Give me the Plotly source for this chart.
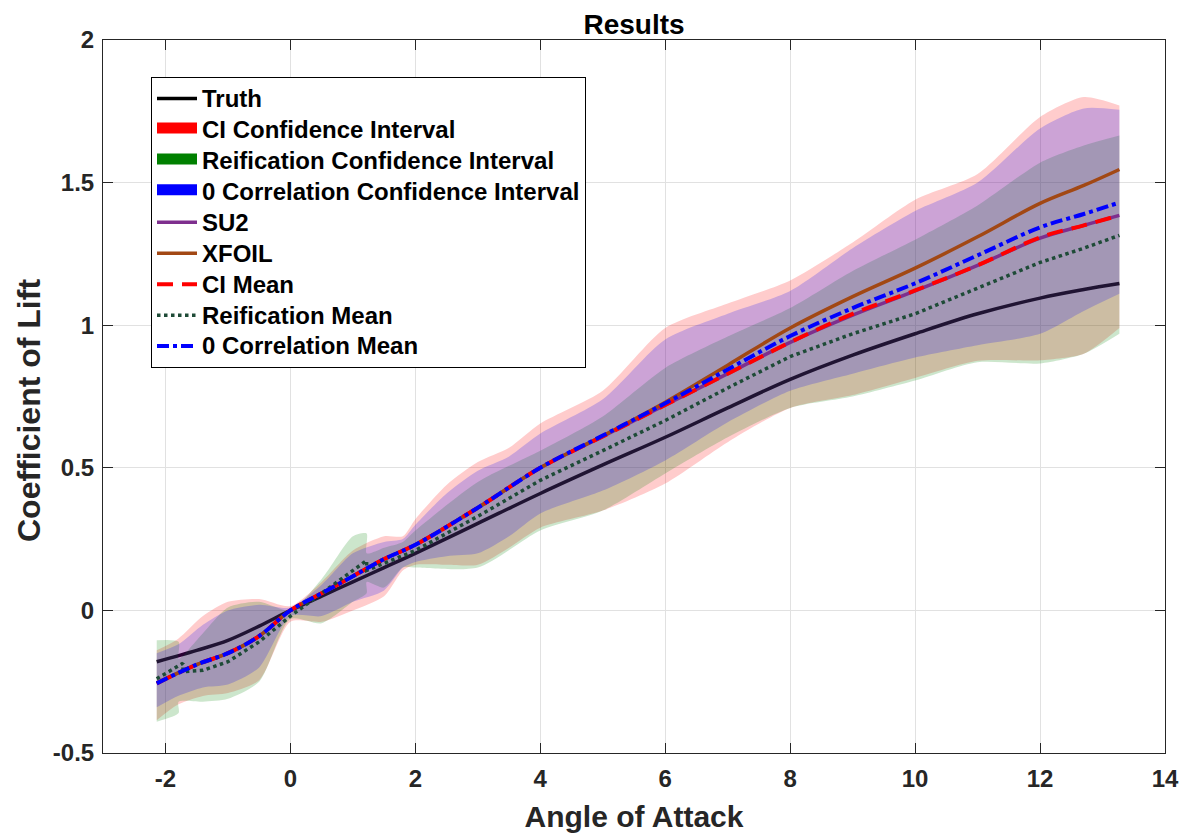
import plotly.graph_objects as go

# ---------------- data ----------------
x_line = [-2.14, -1.5, -1.0, -0.5, 0.0, 0.5, 1.0, 1.5, 2.0, 3.0, 4.0, 5.0, 6.0,
          7.0, 8.0, 9.0, 10.0, 11.0, 12.0, 12.7, 13.27]
truth = [-0.18, -0.14, -0.105, -0.055, 0.0, 0.05, 0.10, 0.15, 0.20, 0.305, 0.41,
         0.51, 0.607, 0.71, 0.81, 0.895, 0.97, 1.04, 1.095, 1.125, 1.146]
su2 = [-0.255, -0.19, -0.15, -0.09, 0.0, 0.06, 0.12, 0.18, 0.23, 0.36, 0.50,
       0.61, 0.72, 0.83, 0.94, 1.035, 1.12, 1.21, 1.305, 1.35, 1.385]
xfoil = [-0.255, -0.19, -0.15, -0.09, 0.0, 0.06, 0.12, 0.18, 0.23, 0.36, 0.50,
         0.612, 0.73, 0.86, 0.99, 1.10, 1.20, 1.31, 1.427, 1.49, 1.546]
ci_mean = [-0.256, -0.19, -0.15, -0.09, 0.0, 0.06, 0.12, 0.18, 0.23, 0.36, 0.50,
           0.61, 0.72, 0.83, 0.94, 1.04, 1.122, 1.21, 1.308, 1.35, 1.385]
zero_mean = [-0.256, -0.19, -0.15, -0.09, 0.0, 0.06, 0.12, 0.18, 0.23, 0.36, 0.50,
             0.613, 0.726, 0.845, 0.962, 1.06, 1.147, 1.245, 1.343, 1.39, 1.43]

x_reif_mean = [-2.14, -1.9, -1.72, -1.72, -1.4, -1.0, -0.5, 0.0, 0.5, 1.0, 1.22,
               1.22, 1.5, 2.0, 3.0, 4.0, 5.0, 6.0, 7.0, 8.0, 9.0, 10.0, 11.0,
               12.0, 12.7, 13.27]
reif_mean = [-0.24, -0.21, -0.185, -0.215, -0.21, -0.18, -0.11, -0.02, 0.06, 0.14,
             0.175, 0.14, 0.165, 0.21, 0.33, 0.456, 0.56, 0.666, 0.78, 0.89, 0.97,
             1.04, 1.13, 1.22, 1.27, 1.315]

x_band = [-2.14, -1.8, -1.4, -1.0, -0.5, 0.0, 0.5, 1.0, 1.5, 1.8, 2.0, 2.5, 3.0,
          3.5, 4.0, 5.0, 6.0, 7.0, 8.0, 9.0, 10.0, 11.0, 12.0, 12.7, 13.27]
ci_upper = [-0.14, -0.10, -0.02, 0.03, 0.04, 0.015, 0.10, 0.21, 0.26, 0.26, 0.32,
            0.44, 0.52, 0.57, 0.655, 0.77, 0.99, 1.076, 1.157, 1.29, 1.44, 1.53,
            1.73, 1.80, 1.77]
ci_lower = [-0.385, -0.33, -0.30, -0.29, -0.245, -0.04, -0.04, 0.0, 0.05, 0.14,
            0.16, 0.16, 0.16, 0.22, 0.29, 0.35, 0.445, 0.59, 0.71, 0.755, 0.815,
            0.875, 0.877, 0.90, 0.99]
zero_upper = [-0.15, -0.12, -0.05, 0.0, 0.02, 0.01, 0.09, 0.20, 0.24, 0.25, 0.30,
              0.41, 0.49, 0.54, 0.62, 0.74, 0.95, 1.04, 1.12, 1.27, 1.40, 1.50,
              1.69, 1.76, 1.755]
zero_lower = [-0.34, -0.30, -0.27, -0.26, -0.20, -0.02, -0.02, 0.03, 0.07, 0.15,
              0.17, 0.19, 0.20, 0.26, 0.34, 0.42, 0.526, 0.66, 0.77, 0.83, 0.887,
              0.93, 0.97, 1.05, 1.11]

x_reif_band = [-2.14, -1.79, -1.79, -1.4, -1.0, -0.5, 0.0, 0.5, 1.0, 1.22, 1.22,
               1.5, 1.8, 2.0, 3.0, 4.0, 5.0, 6.0, 7.0, 8.0, 9.0, 10.0, 11.0,
               12.0, 12.7, 13.27]
reif_upper = [-0.105, -0.11, -0.17, -0.08, 0.01, 0.03, 0.0, 0.11, 0.26, 0.27, 0.20,
              0.22, 0.24, 0.28, 0.45, 0.56, 0.68, 0.85, 0.96, 1.06, 1.19, 1.30,
              1.42, 1.57, 1.63, 1.665]
reif_lower = [-0.39, -0.36, -0.32, -0.32, -0.31, -0.25, -0.03, -0.045, 0.03, 0.06,
              0.10, 0.08, 0.15, 0.15, 0.15, 0.28, 0.35, 0.48, 0.607, 0.71, 0.75,
              0.806, 0.87, 0.866, 0.90, 0.97]

x_ticks = [-2, 0, 2, 4, 6, 8, 10, 12, 14]
x_tick_text = ["-2", "0", "2", "4", "6", "8", "10", "12", "14"]
y_ticks = [-0.5, 0, 0.5, 1, 1.5, 2]
y_tick_text = ["-0.5", "0", "0.5", "1", "1.5", "2"]

# ---------------- figure ----------------
FONT = "Liberation Sans"
# the page body has an 8px margin, so the figure is 8px smaller than the window
W, H = 1180, 830
fig = go.Figure()


def band(xs, lo, up, color, name):
    fig.add_trace(go.Scatter(
        x=xs, y=lo, mode="lines",
        line=dict(width=0, shape="spline", smoothing=0.7),
        hoverinfo="skip", showlegend=False, name=name))
    fig.add_trace(go.Scatter(
        x=xs, y=up, mode="lines", fill="tonexty", fillcolor=color,
        line=dict(width=0, shape="spline", smoothing=0.7),
        hoverinfo="skip", showlegend=False, name=name))


def lname(s):
    return '<span style="font-size:24px">' + s + "</span>"


# Truth drawn under the bands
fig.add_trace(go.Scatter(x=x_line, y=truth, mode="lines", name=lname("Truth"),
                         line=dict(color="black", width=3.5, shape="spline"),
                         legendrank=1))

band(x_band, ci_lower, ci_upper, "rgba(255,0,0,0.2)", "CI Confidence Interval")
band(x_reif_band, reif_lower, reif_upper, "rgba(0,128,0,0.2)",
     "Reification Confidence Interval")
band(x_band, zero_lower, zero_upper, "rgba(0,0,255,0.2)",
     "0 Correlation Confidence Interval")

# legend entries for the bands (solid swatches)
for nm, col, rk in [("CI Confidence Interval", "rgb(255,0,0)", 2),
                    ("Reification Confidence Interval", "rgb(0,128,0)", 3),
                    ("0 Correlation Confidence Interval", "rgb(0,0,255)", 4)]:
    fig.add_trace(go.Scatter(x=[None], y=[None], mode="lines", fill="toself",
                             fillcolor=col, line=dict(color=col, width=10),
                             name=lname(nm), legendrank=rk))

fig.add_trace(go.Scatter(x=x_line, y=su2, mode="lines", name=lname("SU2"),
                         line=dict(color="rgb(126,47,142)", width=3.5, shape="spline"),
                         legendrank=5))
fig.add_trace(go.Scatter(x=x_line, y=xfoil, mode="lines", name=lname("XFOIL"),
                         line=dict(color="rgb(162,72,20)", width=3.5, shape="spline"),
                         legendrank=6))
fig.add_trace(go.Scatter(x=x_line, y=ci_mean, mode="lines", name=lname("CI Mean"),
                         line=dict(color="rgb(255,0,0)", width=4, dash="16px,9px",
                                   shape="spline"),
                         legendrank=7))
fig.add_trace(go.Scatter(x=x_reif_mean, y=reif_mean, mode="lines",
                         name=lname("Reification Mean"),
                         line=dict(color="rgb(30,75,55)", width=3.5, dash="dot"),
                         legendrank=8))
fig.add_trace(go.Scatter(x=x_line, y=zero_mean, mode="lines",
                         name=lname("0 Correlation Mean"),
                         line=dict(color="rgb(0,0,255)", width=4, dash="dashdot",
                                   shape="spline"),
                         legendrank=9))

axis_common = dict(
    showgrid=True, gridcolor="rgb(225,225,225)", gridwidth=1,
    zeroline=False, showline=True, linecolor="rgb(38,38,38)", linewidth=1,
    mirror="ticks", ticks="inside", ticklen=10, tickwidth=1,
    tickcolor="rgb(38,38,38)",
    tickfont=dict(family=FONT, size=24, color="rgb(38,38,38)", weight="bold"),
)

fig.update_layout(
    width=W, height=H,
    paper_bgcolor="white", plot_bgcolor="white",
    margin=dict(l=95, r=23, t=32, b=85, autoexpand=False),
    title=dict(text="Results", x=0.5, xref="paper", xanchor="center",
               y=1 - 6 / H, yref="container", yanchor="top", pad=dict(t=0, b=0),
               font=dict(family=FONT, size=28, color="black", weight="bold")),
    xaxis=dict(range=[-3, 14], tickvals=x_ticks, ticktext=x_tick_text,
               ticklabelstandoff=4,
               title=dict(text="Angle of Attack", standoff=15,
                          font=dict(family=FONT, size=30, color="rgb(38,38,38)",
                                    weight="bold")),
               **axis_common),
    yaxis=dict(range=[-0.5, 2], tickvals=y_ticks, ticktext=y_tick_text,
               ticklabelstandoff=3, **axis_common),
    annotations=[dict(text="Coefficient of Lift", textangle=-90,
                      xref="paper", yref="paper",
                      x=(29 - 103) / 1062, y=(753 - 411) / 713,
                      xanchor="center", yanchor="middle", showarrow=False,
                      borderpad=0,
                      font=dict(family=FONT, size=32, color="rgb(38,38,38)",
                                weight="bold"))],
    legend=dict(x=(151 - 103) / 1062, y=(753 - 77) / 713, xanchor="left", yanchor="top",
                bgcolor="white", bordercolor="black", borderwidth=1,
                font=dict(family=FONT, size=21.5, color="black", weight="bold"),
                itemwidth=40, tracegroupgap=0, traceorder="normal"),
    showlegend=True,
)

fig.write_html("out.html")
